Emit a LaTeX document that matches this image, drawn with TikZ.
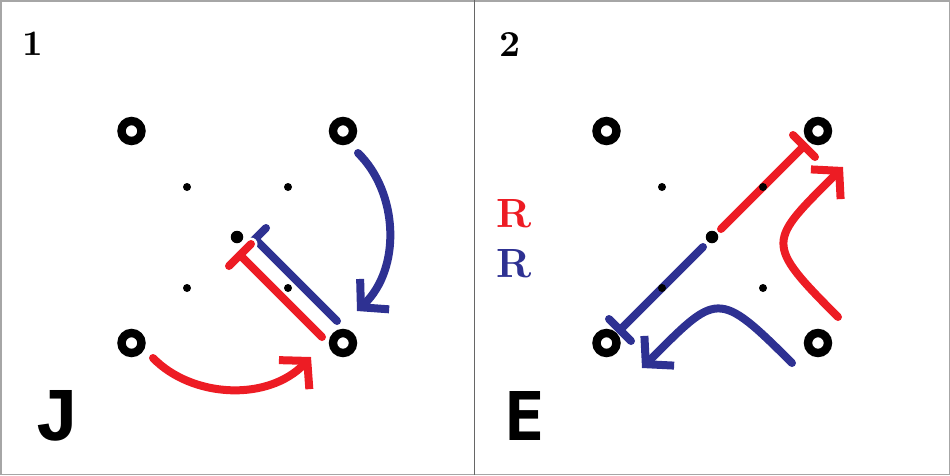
\documentclass[tikz,border=0pt]{standalone}
\usepackage{fontspec}
\newfontfamily\letterfont{DejaVu Sans Mono}
\newfontfamily\jletterfont{Liberation Mono}
\usetikzlibrary{arrows.meta,calc}
\definecolor{myred}{HTML}{ED1C24}
\definecolor{myblue}{HTML}{2E3192}
\begin{document}
\begin{tikzpicture}[x=1pt,y=-1pt,
  ring/.style={circle,draw=black,line width=8.4pt,minimum size=20pt,inner sep=0pt},
  smalldot/.style={circle,fill=black,minimum size=8pt,inner sep=0pt},
  bigdot/.style={circle,fill=black,minimum size=12.5pt,inner sep=0pt},
  tline/.style={line width=8pt,line cap=round},
  carrow/.style={line width=8pt,line cap=round,-{Straight Barb[length=19pt,width=42pt]}},
  lbl/.style={inner sep=0pt,anchor=base}
]
\useasboundingbox (0,0) rectangle (950,475);
\draw[gray!70,line width=1.5pt] (0.75,0.75) rectangle (949.25,474.25);
\draw[gray!80!black,line width=1.2pt] (474.5,0) -- (474.5,475);

% ---------- Panel 1 ----------
\node[ring] (a1) at (131.5,131) {};
\node[ring] (b1) at (343,131) {};
\node[ring] (c1) at (131.5,343) {};
\node[ring] (d1) at (343,343) {};
\node[smalldot] (p1) at (187,187) {};
\node[smalldot] (q1) at (288,187) {};
\node[smalldot] (r1) at (187,288) {};
\node[smalldot] (s1) at (288,288) {};
\node[bigdot] (m1) at (237,237) {};
\node[lbl] (n1) at (33,55) {\resizebox{!}{23.5pt}{\bfseries 1}};
\node[lbl] (J) at (57,440) {\resizebox{!}{50pt}{\jletterfont\bfseries J}};

% blue T (panel 1)
\coordinate (bt1) at (255,239);
\coordinate (be1) at (337,321);
\draw[tline,myblue] (be1) -- (bt1);
\draw[tline,myblue] ($(bt1)+(-11,11)$) -- ($(bt1)+(11,-11)$);
% red T (panel 1) with white halo
\coordinate (rt1) at (240,255);
\coordinate (re1) at (322,337);
\draw[line width=13pt,line cap=round,white] (re1) -- (rt1);
\draw[line width=13pt,line cap=round,white] ($(rt1)+(-11,11)$) -- ($(rt1)+(11,-11)$);
\draw[tline,myred] (re1) -- (rt1);
\draw[tline,myred] ($(rt1)+(-11,11)$) -- ($(rt1)+(11,-11)$);

% curved arrows (panel 1)
\coordinate (bs1) at (358,153);
\coordinate (bk1) at (357,311);
\draw[carrow,myblue] (bs1) .. controls (398,192) and (402,268) .. (bk1);
\coordinate (rs1) at (153,358);
\coordinate (rk1) at (311,357);
\draw[carrow,myred] (rs1) .. controls (192,398) and (268,402) .. (rk1);

% ---------- Panel 2 ----------
\node[ring] (a2) at (606.5,131) {};
\node[ring] (b2) at (818,131) {};
\node[ring] (c2) at (606.5,343) {};
\node[ring] (d2) at (818,343) {};
\node[lbl] (n2) at (510.5,56) {\resizebox{!}{24pt}{\bfseries 2}};
\node[lbl,text=myred] (R1) at (514,227) {\resizebox{!}{28pt}{\bfseries R}};
\node[lbl,text=myblue] (R2) at (514,277) {\resizebox{!}{28pt}{\bfseries R}};
\node[lbl] (E) at (525,440) {\resizebox{!}{49pt}{\letterfont\bfseries E}};

% red T (panel 2)
\coordinate (rs2) at (721,229);
\coordinate (rt2) at (804,146);
\draw[tline,myred] (rs2) -- (rt2);
\draw[tline,myred] ($(rt2)+(-11,-11)$) -- ($(rt2)+(11,11)$);
% blue T (panel 2)
\coordinate (bs2) at (703,247);
\coordinate (bt2) at (620,330);
\draw[tline,myblue] (bs2) -- (bt2);
\draw[tline,myblue] ($(bt2)+(-11,-11)$) -- ($(bt2)+(11,11)$);

\node[smalldot] (p2) at (662,187) {};
\node[smalldot] (q2) at (763,187) {};
\node[smalldot] (r2) at (662,288) {};
\node[smalldot] (s2) at (763,288) {};
\node[bigdot] (m2) at (712,237) {};

% curved arrows (panel 2)
\coordinate (rc0) at (838,317);
\coordinate (rc3) at (843,167);
\draw[carrow,myred] (rc0) .. controls (763,242) and (768,242) .. (rc3);
\coordinate (bc0) at (792,363);
\coordinate (bc3) at (642,368);
\draw[carrow,myblue] (bc0) .. controls (717,288) and (717,293) .. (bc3);
\end{tikzpicture}
\end{document}
